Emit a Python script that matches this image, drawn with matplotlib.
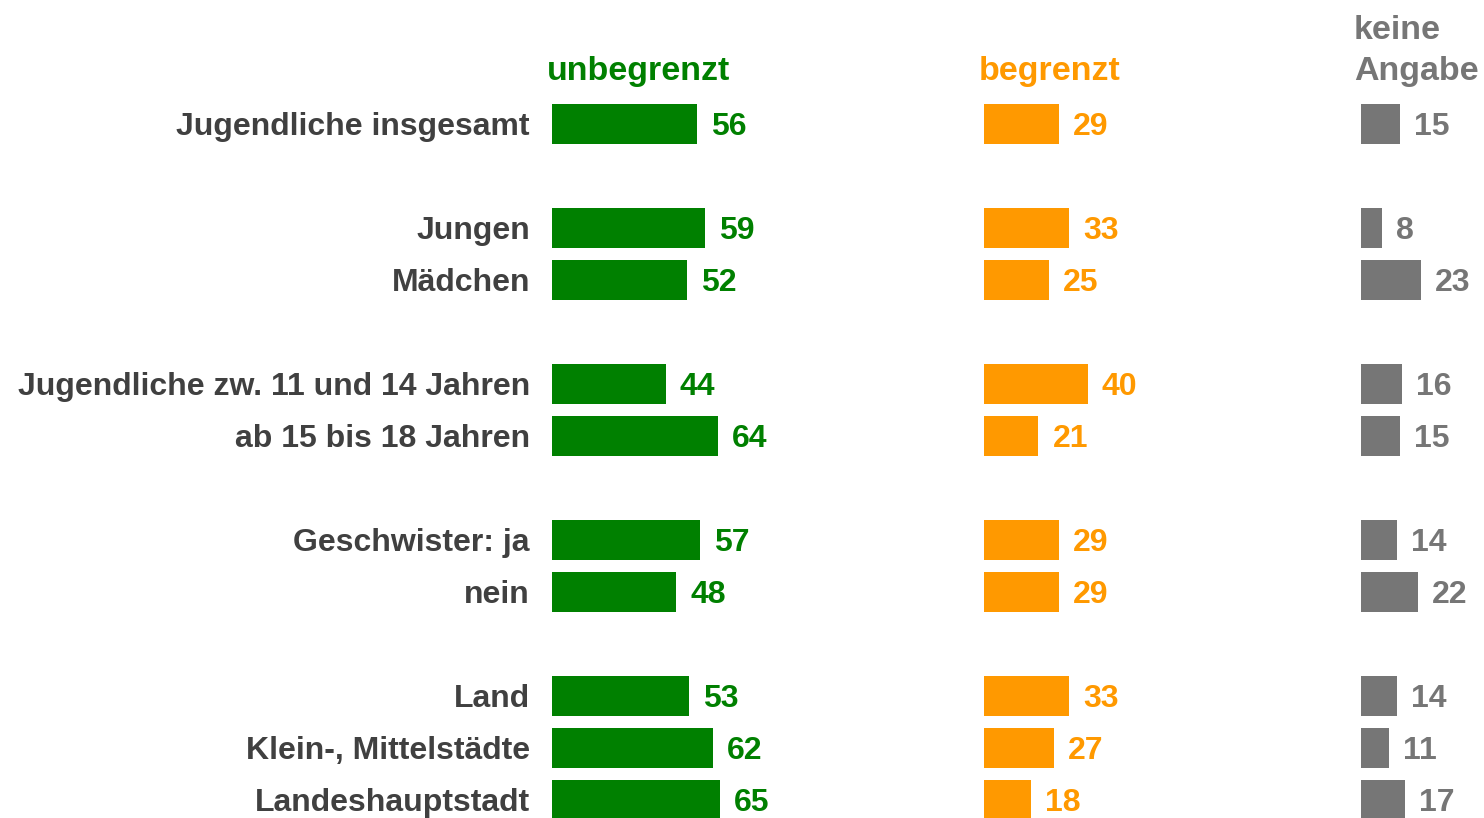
import matplotlib.pyplot as plt

plt.rcParams['font.family'] = ['Liberation Sans', 'DejaVu Sans']

labels = ['Jugendliche insgesamt', 'Jungen', 'Mädchen',
          'Jugendliche zw. 11 und 14 Jahren', 'ab 15 bis 18 Jahren',
          'Geschwister: ja', 'nein', 'Land', 'Klein-, Mittelstädte',
          'Landeshauptstadt']
rows = [0, 2, 3, 5, 6, 8, 9, 11, 12, 13]
unbegrenzt = [56, 59, 52, 44, 64, 57, 48, 53, 62, 65]
begrenzt = [29, 33, 25, 40, 21, 29, 29, 33, 27, 18]
keine = [15, 8, 23, 16, 15, 14, 22, 14, 11, 17]

headers = ['unbegrenzt', 'begrenzt', 'keine\nAngabe']
colors = ['#008000', '#FF9900', '#767676']
series = [unbegrenzt, begrenzt, keine]
col_left = [552, 984, 1361]  # pixel left edge of each bar column

W, H = 1484, 818
px_per_unit = 2.59
fig = plt.figure(figsize=(W / 100, H / 100), dpi=100)

# y mapping: row 0 at 124 px, 52 px per row
y_top = -124 / 52
y_bot = (H - 124) / 52
fs = 23

for i, (vals, c, left) in enumerate(zip(series, colors, col_left)):
    wpx = 360 if i < 2 else W - left
    ax = fig.add_axes([left / W, 0, wpx / W, 1])
    ax.set_xlim(0, wpx / px_per_unit)
    ax.set_ylim(y_bot, y_top)
    ax.barh(rows, vals, height=0.76, color=c)
    for r, v in zip(rows, vals):
        ax.text(v + 5.4, r, str(v), color=c, fontsize=fs, fontweight='bold',
                va='center_baseline', ha='left')
    if i < 2:
        ax.text(-2, -1.08, headers[i], color=c, fontsize=24.5, fontweight='bold',
                va='center_baseline', ha='left')
    else:
        ax.text(-2.8, -1.40, headers[i], color=c, fontsize=24.5, fontweight='bold',
                va='center', ha='left', linespacing=1.42)
    ax.axis('off')
    if i == 0:
        for r, lab in zip(rows, labels):
            ax.text(-8.5, r, lab, color='#404040', fontsize=fs,
                    fontweight='bold', va='center_baseline', ha='right')

fig.savefig('out.png', dpi=100)
